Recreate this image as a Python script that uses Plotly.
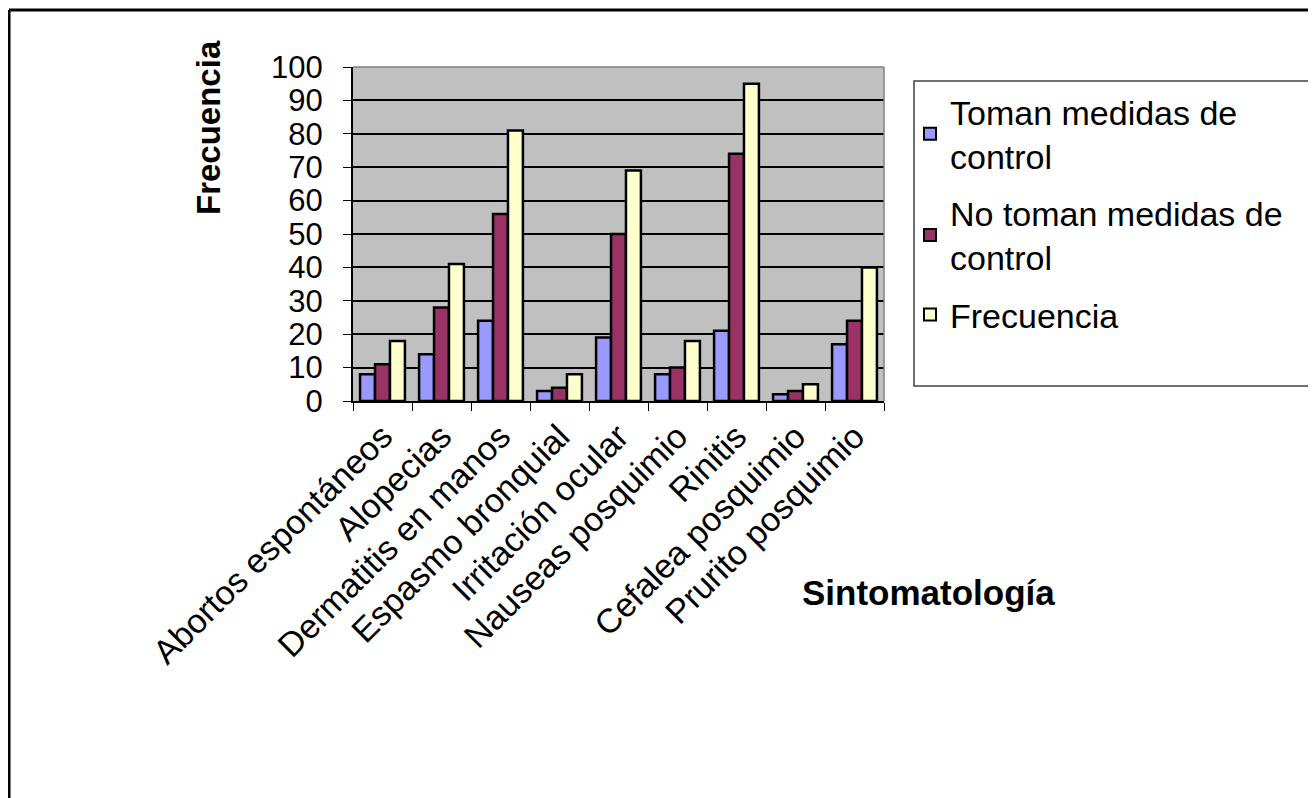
import plotly.graph_objects as go

categorias = ["Abortos espontáneos", "Alopecias", "Dermatitis en manos", "Espasmo bronquial",
              "Irritación ocular", "Nauseas posquimio", "Rinitis", "Cefalea posquimio", "Prurito posquimio"]
toman = [8, 14, 24, 3, 19, 8, 21, 2, 17]
no_toman = [11, 28, 56, 4, 50, 10, 74, 3, 24]
frecuencia = [18, 41, 81, 8, 69, 18, 95, 5, 40]
series_nombres = ["Toman medidas de<br>control", "No toman medidas de<br>control", "Frecuencia"]
y_ticks = list(range(0, 101, 10))

W, H = 1316, 798
OFF = 8  # page offset of the figure inside the browser
PL, PR, PT, PB = 353 - OFF, 884 - OFF, 67 - OFF, 401 - OFF

def px(x):
    return (x - OFF - PL) / (PR - PL)

def py(y):
    return (PB - (y - OFF)) / (PB - PT)

FONT = "Liberation Sans, Arial, sans-serif"
colores = ["#9999FF", "#993366", "#FFFFCC"]

fig = go.Figure()
for i, (nombre, vals, col) in enumerate(zip(series_nombres, [toman, no_toman, frecuencia], colores)):
    fig.add_trace(go.Bar(x=categorias, y=vals, name=nombre, legendgroup=f"g{i}",
                         marker=dict(color=col, line=dict(color="black", width=2.5))))

fig.update_layout(
    width=W, height=H,
    margin=dict(l=PL, r=W - PR, t=PT, b=H - PB),
    paper_bgcolor="white", plot_bgcolor="#C0C0C0",
    barmode="group", bargap=0.24, bargroupgap=0,
    font=dict(family=FONT, color="black"),
    showlegend=True,
    legend=dict(x=px(910), y=py(83), xanchor="left", yanchor="top",
                font=dict(size=34, family=FONT), bgcolor="rgba(0,0,0,0)",
                borderwidth=0, itemsizing="constant", traceorder="grouped",
                tracegroupgap=10),
    xaxis=dict(tickangle=-45, tickfont=dict(size=34), tickson="boundaries",
               ticks="outside", ticklen=8, tickcolor="black", dtick=1,
               showline=True, linecolor="black", linewidth=2, showgrid=False),
    yaxis=dict(range=[0, 100], tickvals=y_ticks, tickfont=dict(size=31),
               ticks="outside", ticklen=8, tickcolor="black", ticklabelstandoff=14,
               showline=True, linecolor="black", linewidth=2,
               showgrid=True, gridcolor="black", gridwidth=1.5, zeroline=False),
)

shapes = [
    dict(type="line", xref="paper", yref="paper", x0=0, x1=1, y0=1, y1=1,
         line=dict(color="#808080", width=1.5)),
    dict(type="line", xref="paper", yref="paper", x0=1, x1=1, y0=0, y1=1,
         line=dict(color="#808080", width=1.5)),
    dict(type="rect", xref="paper", yref="paper", x0=px(914), x1=px(1311), y0=py(386), y1=py(81),
         line=dict(color="#404040", width=1.5), fillcolor="rgba(0,0,0,0)"),
    dict(type="line", xref="paper", yref="paper", x0=px(9), x1=px(1340), y0=py(10), y1=py(10),
         line=dict(color="black", width=3)),
    dict(type="line", xref="paper", yref="paper", x0=px(9), x1=px(9), y0=py(10), y1=py(830),
         line=dict(color="black", width=3)),
]
fig.update_layout(shapes=shapes)

fig.add_annotation(text="<b>Frecuencia</b>", xref="paper", yref="paper",
                   x=px(208), y=py(128), textangle=-90, showarrow=False,
                   font=dict(size=33, family=FONT), xanchor="center", yanchor="middle")
fig.add_annotation(text="<b>Sintomatología</b>", xref="paper", yref="paper",
                   x=px(928), y=py(592), showarrow=False,
                   font=dict(size=35, family=FONT), xanchor="center", yanchor="middle")

fig.write_html("out.html")
